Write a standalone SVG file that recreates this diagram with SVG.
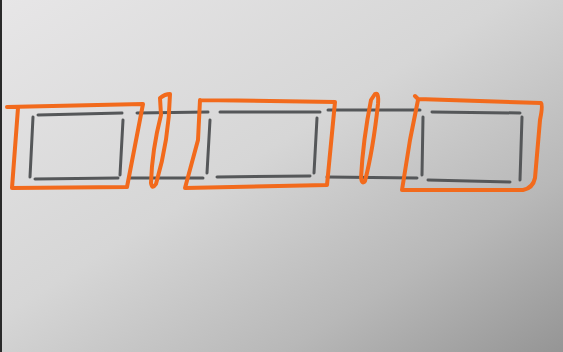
<svg xmlns="http://www.w3.org/2000/svg" width="563" height="352" viewBox="0 0 563 352">
<defs>
<linearGradient id="bg" x1="0" y1="0" x2="1" y2="1">
<stop offset="0" stop-color="#e7e6e7"/>
<stop offset="0.45" stop-color="#d6d6d6"/>
<stop offset="0.75" stop-color="#b8b8b8"/>
<stop offset="1" stop-color="#959595"/>
</linearGradient>
<style>
.g{fill:none;stroke:#555759;stroke-width:3;stroke-linecap:round;stroke-linejoin:round}
.o{fill:none;stroke:#f26a1c;stroke-width:4;stroke-linecap:round;stroke-linejoin:round}
</style>
</defs>
<rect width="563" height="352" fill="url(#bg)"/>
<rect x="0" y="0" width="2" height="352" fill="#2a2a2a"/>
<g id="rails">
<path class="g" d="M137,113 L208,112"/>
<path class="g" d="M130,178 L203,178"/>
<path class="g" d="M328,110 L420,110"/>
<path class="g" d="M327,177 L417,178"/>
</g>
<g id="box1">
<path class="g" d="M38,115 L122,113"/>
<path class="g" d="M33,117 L30,177"/>
<path class="g" d="M123,120 L120,175"/>
<path class="g" d="M35,179 L118,178"/>
<path class="o" d="M7,107 L143,104 L127,187 L12,188 L18,108"/>
</g>
<g id="slice1">
<path class="o" d="M160,98 Q165,94 170,94 Q169,140 156,184 Q152,190 151,183 Q152,150 161,115 Z"/>
</g>
<g id="box2">
<path class="g" d="M220,112 L320,112"/>
<path class="g" d="M210,120 L207,173"/>
<path class="g" d="M317,118 L314,173"/>
<path class="g" d="M217,177 L310,176"/>
<path class="o" d="M200,100 L335,102 L327,185 L185,188 L198,140 L200,100"/>
</g>
<g id="slice2">
<path class="o" d="M375,94 Q379,92 378,104 Q373,150 365,181 Q362,185 361,178 Q363,140 371,100 Z"/>
</g>
<g id="box3">
<path class="g" d="M432,112 L520,113"/>
<path class="g" d="M423,117 L422,175"/>
<path class="g" d="M522,117 L520,180"/>
<path class="g" d="M428,180 L510,182"/>
<path class="o" d="M415,96 L418,99 L541,103 Q543,105 540,120 L535,178 Q533,188 523,190 L402,190 L410,140 L418,100"/>
</g>
</svg>
